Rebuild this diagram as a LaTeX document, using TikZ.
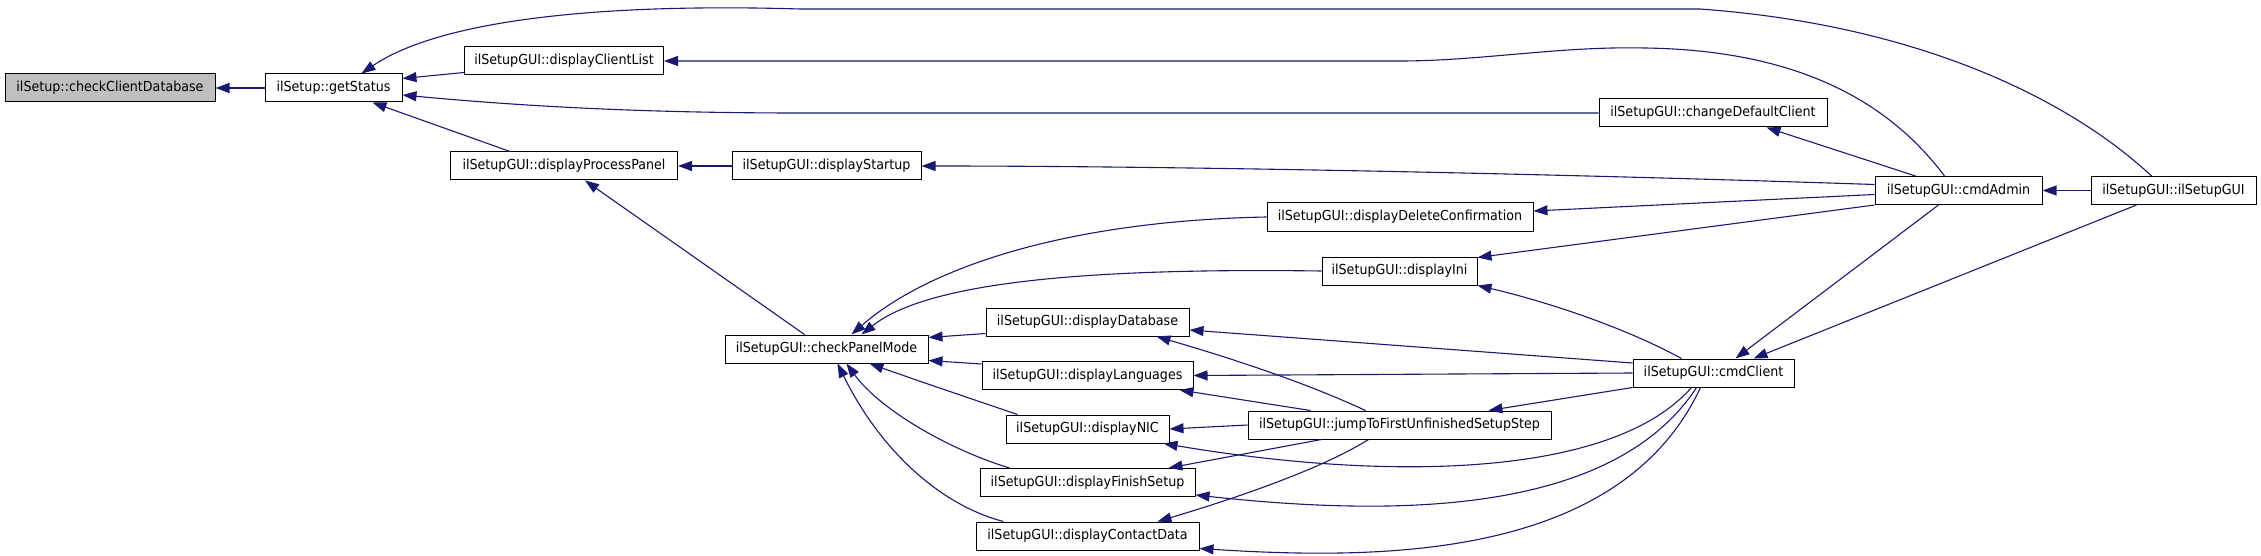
\documentclass[tikz,border=0pt]{standalone}
\usepackage{fontspec}
\setmainfont{DejaVu Sans}[FakeStretch=0.92]
\usetikzlibrary{calc,arrows.meta}
\definecolor{edgeblue}{HTML}{191970}
\begin{document}
\begin{tikzpicture}[x=1pt,y=-1pt,
  box/.style={draw=black, line width=1pt, fill=white, minimum height=28pt, inner sep=0pt, font=\fontsize{13.8}{16}\selectfont},
  arr/.style={draw=edgeblue, line width=1.1pt, -{Triangle[length=14pt,width=10pt]}}]
\useasboundingbox (0,0) rectangle (2261,556);
% nodes
\node[box, fill=black!25, minimum width=210] (cdb) at (110,88) {ilSetup::checkClientDatabase};
\node[box, minimum width=137] (gs) at (333.5,88) {ilSetup::getStatus};
\node[box, minimum width=199] (dcl) at (564,61) {ilSetupGUI::displayClientList};
\node[box, minimum width=227] (dpp) at (564,166) {ilSetupGUI::displayProcessPanel};
\node[box, minimum width=189] (dst) at (826.5,166) {ilSetupGUI::displayStartup};
\node[box, minimum width=228] (cdc) at (1713,113) {ilSetupGUI::changeDefaultClient};
\node[box, minimum width=167] (cad) at (1958.5,190.5) {ilSetupGUI::cmdAdmin};
\node[box, minimum width=165] (isg) at (2173.5,190.5) {ilSetupGUI::ilSetupGUI};
\node[box, minimum width=266] (ddc) at (1400,217) {ilSetupGUI::displayDeleteConfirmation};
\node[box, minimum width=155] (dini) at (1399.5,271) {ilSetupGUI::displayIni};
\node[box, minimum width=203] (cpm) at (826.5,349) {ilSetupGUI::checkPanelMode};
\node[box, minimum width=203] (ddb) at (1087.5,322) {ilSetupGUI::displayDatabase};
\node[box, minimum width=211] (dlang) at (1087.5,375.5) {ilSetupGUI::displayLanguages};
\node[box, minimum width=163] (dnic) at (1087.5,429) {ilSetupGUI::displayNIC};
\node[box, minimum width=215] (dfs) at (1087.5,482.5) {ilSetupGUI::displayFinishSetup};
\node[box, minimum width=223] (dcd) at (1087.5,536) {ilSetupGUI::displayContactData};
\node[box, minimum width=303] (jump) at (1399.5,425) {ilSetupGUI::jumpToFirstUnfinishedSetupStep};
\node[box, minimum width=161] (cmc) at (1713.5,373) {ilSetupGUI::cmdClient};
% edges
\draw[arr] (gs.west) -- (cdb.east);
\draw[arr] ($(dcl.south west)+(0,-3)$) -- ($(gs.north east)+(0,5)$);
\draw[arr] (cdc.west) -- (800,113) .. controls (640,113) and (520,106) .. ($(gs.east)+(0,7)$);
\draw[arr] ($(dpp.north west)+(60,0)$) -- ($(gs.south west)+(108,0)$);
\draw[arr] ($(isg.north west)+(61,0)$) .. controls (2070,100) and (1920,25) .. (1700,9) -- (800,9) .. controls (600,3) and (440,20) .. ($(gs.north west)+(97,0)$);
\draw[arr] ($(cad.north west)+(70,0)$) .. controls (1880,90) and (1780,50) .. (1645,48) .. controls (1560,46) and (1480,61) .. (1400,61) -- (dcl.east);
\draw[arr] ($(cad.north west)+(41,0)$) -- ($(cdc.south west)+(168,0)$);
\draw[arr] (dst.west) -- (dpp.east);
\draw[arr] ($(cad.west)+(0,-6)$) .. controls (1500,172) and (1150,166) .. (dst.east);
\draw[arr] ($(cpm.north west)+(80,0)$) -- ($(dpp.south west)+(135,0)$);
\draw[arr] ($(cad.west)+(0,4)$) -- ($(ddc.east)+(0,-6)$);
\draw[arr] (cad.south west) -- ($(dini.north east)+(0,1)$);
\draw[arr] (isg.west) -- (cad.east);
\draw[arr] ($(cad.south west)+(64,0)$) -- ($(cmc.north west)+(103,0)$);
\draw[arr] ($(isg.south west)+(46,0)$) -- ($(cmc.north west)+(121,0)$);
\draw[arr] ($(cmc.north west)+(49,0)$) .. controls (1620,325) and (1540,300) .. (dini.south east);
\draw[arr] (ddc.west) .. controls (1060,221) and (925,270) .. ($(cpm.north west)+(127,0)$);
\draw[arr] (dini.west) .. controls (1100,268) and (930,280) .. ($(cpm.north west)+(137,0)$);
\draw[arr] ($(ddb.south west)+(0,-3)$) -- ($(cpm.north east)+(0,3)$);
\draw[arr] ($(dlang.north west)+(0,3)$) -- ($(cpm.south east)+(0,-3)$);
\draw[arr] ($(dnic.north west)+(12,0)$) .. controls (960,395) and (910,378) .. ($(cpm.south west)+(145,0)$);
\draw[arr] ($(dfs.north west)+(30,0)$) .. controls (950,450) and (880,410) .. ($(cpm.south west)+(122,0)$);
\draw[arr] ($(dcd.north west)+(28,0)$) .. controls (940,505) and (880,450) .. ($(cpm.south west)+(113,0)$);
\draw[arr] ($(cmc.west)+(0,-10)$) -- ($(ddb.east)+(0,8)$);
\draw[arr] (cmc.west) -- (dlang.east);
\draw[arr] (cmc.south west) -- ($(jump.north west)+(241,0)$);
\draw[arr] ($(jump.north west)+(118,0)$) .. controls (1300,380) and (1220,355) .. ($(ddb.south west)+(171,0)$);
\draw[arr] ($(jump.north west)+(63,0)$) -- ($(dlang.south east)+(-14,0)$);
\draw[arr] (jump.west) -- (dnic.east);
\draw[arr] ($(cmc.south west)+(59,0)$) .. controls (1610,480) and (1380,480) .. ($(dnic.south east)+(-6,0)$);
\draw[arr] ($(jump.south west)+(74,0)$) -- ($(dfs.north east)+(-27,0)$);
\draw[arr] ($(jump.south west)+(121,0)$) .. controls (1320,470) and (1230,500) .. ($(dcd.north east)+(-42,0)$);
\draw[arr] ($(cmc.south west)+(64,0)$) .. controls (1610,520) and (1380,515) .. ($(dfs.south east)+(0,-2)$);
\draw[arr] ($(cmc.south west)+(68,0)$) .. controls (1620,560) and (1380,560) .. ($(dcd.south east)+(0,-2)$);
\end{tikzpicture}
\end{document}
